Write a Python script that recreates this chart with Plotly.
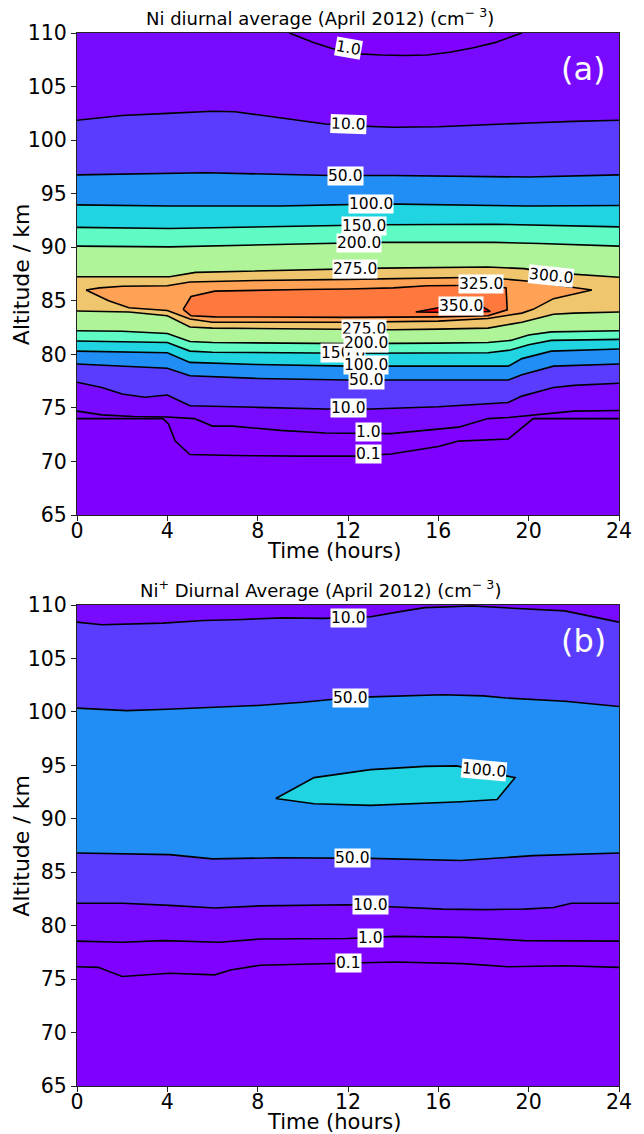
import math
import plotly.graph_objects as go

# ---------------- axes / levels ----------------
T_MIN, T_MAX = 0, 24
ALT_MIN, ALT_MAX = 65, 110
T_TICKS = [0, 4, 8, 12, 16, 20, 24]
ALT_TICKS = [65, 70, 75, 80, 85, 90, 95, 100, 105, 110]
LEVELS = [0, 0.1, 1, 10, 50, 100, 150, 200, 275, 300, 325, 350, 400]
VMAX = 400

# ---------------- panel (a): Ni (contour crossings: time h, altitude km) ----------------
A_LO_01_T = [0, 3.8, 4.05, 4.35, 5.0, 7, 10, 12.3, 13.9, 16.0, 16.9, 19.1, 20.2, 24]
A_LO_01_Z = [74.0, 74.0, 73.5, 71.9, 70.65, 70.55, 70.5, 70.5, 70.7, 71.4, 71.9, 72.1, 74.0, 74.0]
A_LO_1_T = [0, 1.1, 2.5, 4.0, 5.2, 6.0, 6.9, 9, 11, 12.3, 13.9, 16.9, 18.2, 19.1, 21.1, 22, 24]
A_LO_1_Z = [74.7, 74.35, 74.2, 74.15, 74.0, 73.3, 73.3, 72.9, 72.65, 72.6, 72.6, 73.2, 74.0, 74.1, 74.5, 74.7, 74.75]
A_UP_1_T = [9.4, 10.5, 11.3, 12.5, 13.5, 14.5, 15.5, 16.5, 17.5, 18.5, 19.7]
A_UP_1_Z = [110, 109.1, 108.55, 108.05, 107.95, 107.9, 107.95, 108.2, 108.6, 109.1, 110]
A_LO_10_T = [0, 1.1, 2, 3, 4, 5, 8, 11, 13, 16, 19.1, 19.7, 21.1, 22, 24]
A_LO_10_Z = [77.4, 76.9, 76.3, 76.0, 76.2, 75.2, 75.05, 74.9, 74.9, 75.1, 75.5, 76.1, 76.9, 77.1, 77.3]
A_UP_10_T = [0, 2, 4, 6, 7, 8, 10, 11, 12, 14, 16, 18, 20, 22, 24]
A_UP_10_Z = [101.85, 102.3, 102.5, 102.7, 102.65, 102.35, 101.8, 101.5, 101.35, 101.2, 101.25, 101.45, 101.6, 101.75, 101.85]
A_LO_50_T = [0, 4, 5, 8, 12, 19.1, 19.7, 21.1, 24]
A_LO_50_Z = [79.1, 78.7, 78.0, 77.75, 77.6, 77.6, 78.1, 78.9, 79.1]
A_UP_50_T = [0, 5.7, 11.2, 14, 20, 24]
A_UP_50_Z = [96.75, 96.95, 96.7, 96.7, 96.55, 96.75]
A_LO_100_T = [0, 4, 5, 8, 12, 19.1, 19.7, 21, 24]
A_LO_100_Z = [80.3, 80.15, 79.25, 79.05, 78.9, 78.9, 79.6, 80.3, 80.5]
A_UP_100_T = [0, 4.1, 9, 13.5, 20, 24]
A_UP_100_Z = [93.95, 93.85, 93.85, 94.05, 93.85, 93.9]
A_LO_150_T = [0, 4, 5, 6, 12, 18.2, 19.2, 20, 21, 24]
A_LO_150_Z = [81.25, 81.1, 80.3, 80.2, 80.1, 80.15, 80.4, 80.9, 81.3, 81.4]
A_UP_150_T = [0, 4.1, 10.9, 13.5, 18.5, 24]
A_UP_150_Z = [91.85, 91.75, 92.0, 92.1, 92.15, 91.9]
A_LO_200_T = [0, 2, 4, 5, 6, 12, 16, 18.2, 19.2, 20, 21, 24]
A_LO_200_Z = [82.2, 82.15, 81.95, 81.2, 81.1, 81.0, 81.05, 81.1, 81.3, 81.8, 82.1, 82.2]
A_UP_200_T = [0, 4.1, 10.9, 13.5, 18.5, 20.5, 24]
A_UP_200_Z = [90.1, 90.03, 90.35, 90.45, 90.45, 90.35, 90.1]
A_LO_275_T = [0, 2.3, 4.0, 5.0, 6, 8, 12, 14, 16, 18.2, 19.7, 21.1, 22, 24]
A_LO_275_Z = [84.05, 83.95, 83.6, 82.55, 82.45, 82.4, 82.3, 82.3, 82.35, 82.45, 83.0, 83.75, 83.85, 83.95]
A_UP_275_T = [0, 4.1, 5.25, 10.9, 13.5, 18.2, 19.8, 20.8, 24]
A_UP_275_Z = [87.25, 87.25, 87.65, 87.9, 88.05, 88.15, 88.0, 87.65, 87.2]
A_CL_300_T = [0.4, 1, 2, 4, 5, 8, 12, 16, 18, 19.9, 21.1, 22.8, 21.1, 20.8, 20.2, 19.7, 18.2, 16, 12, 8, 6, 5, 4, 2.3, 1.4, 0.4]
A_CL_300_Z = [86.0, 86.2, 86.35, 86.4, 86.75, 86.9, 87.0, 87.1, 87.2, 86.85, 86.5, 86.0, 85.2, 84.85, 84.2, 83.85, 83.35, 83.1, 83.0, 83.0, 83.0, 83.3, 84.1, 84.35, 85.0, 86.0]
A_CL_325_T = [4.7, 5.05, 6.1, 8, 10, 12, 14, 15.5, 18.2, 19.0, 19.05, 18.2, 16, 12, 8, 6.1, 5.05, 4.7]
A_CL_325_Z = [84.2, 85.4, 85.9, 86.0, 86.05, 86.1, 86.2, 86.4, 86.45, 86.2, 84.15, 83.6, 83.5, 83.45, 83.5, 83.5, 83.6, 84.2]
A_CL_350_T = [15.0, 16.0, 18.0, 18.3, 16.5, 15.0]
A_CL_350_Z = [83.95, 84.35, 84.4, 84.0, 83.92, 83.95]

A_LAB_TXT = ["1.0", "10.0", "50.0", "100.0", "150.0", "200.0", "275.0", "300.0", "325.0", "350.0",
             "150.0", "275.0", "200.0", "100.0", "50.0", "10.0", "1.0", "0.1"]
A_LAB_T = [12.0, 12.0, 11.9, 13.0, 12.7, 12.5, 12.3, 21.0, 17.9, 17.0,
           11.8, 12.7, 12.8, 12.8, 12.8, 12.0, 12.9, 12.9]
A_LAB_Z = [108.6, 101.5, 96.65, 94.0, 92.0, 90.35, 88.0, 87.3, 86.6, 84.55,
           80.15, 82.4, 81.1, 79.0, 77.6, 75.0, 72.75, 70.65]
A_LAB_ANG = [10, 2, 0, 0, 0, 0, 0, 6, 0, 0, 0, 0, 0, 0, 0, 0, 0, 0]

# ---------------- panel (b): Ni+ ----------------
B_LO_01_T = [0, 0.94, 2.0, 4.1, 6.1, 6.8, 8.1, 10.6, 14.1, 17.1, 19.1, 21.6, 24]
B_LO_01_Z = [76.15, 76.1, 75.25, 75.55, 75.4, 75.85, 76.3, 76.45, 76.6, 76.45, 76.15, 76.25, 76.1]
B_LO_1_T = [0, 2.0, 3.8, 5.6, 6.3, 8.1, 12, 14.1, 17.1, 19.8, 24]
B_LO_1_Z = [78.55, 78.45, 78.6, 78.45, 78.45, 78.75, 78.8, 79.0, 78.9, 78.6, 78.55]
B_LO_10_T = [0, 2.0, 4.1, 6.1, 8.1, 12, 14.1, 16.2, 18, 19.8, 21.1, 21.9, 24]
B_LO_10_Z = [82.1, 82.1, 81.9, 81.65, 81.85, 81.95, 81.75, 81.55, 81.5, 81.55, 81.7, 82.1, 82.1]
B_UP_10_T = [0, 1.1, 3.8, 5.6, 7.35, 9.1, 10.9, 13.0, 14.5, 15.4, 17.5, 19.8, 21.6, 24]
B_UP_10_Z = [108.4, 108.15, 108.3, 108.55, 108.65, 108.8, 108.75, 108.9, 109.45, 109.75, 109.9, 109.65, 109.45, 108.4]
B_LO_50_T = [0, 4.1, 6, 8.9, 13, 17, 20.2, 24]
B_LO_50_Z = [86.8, 86.65, 86.25, 86.35, 86.3, 86.1, 86.55, 86.8]
B_UP_50_T = [0, 2.2, 4, 6, 8, 10, 11.5, 13, 16.2, 18, 19, 21.6, 24]
B_UP_50_Z = [100.35, 100.12, 100.25, 100.4, 100.6, 100.9, 101.2, 101.4, 101.6, 101.5, 101.3, 101.0, 100.5]
B_CL_100_T = [8.8, 10.5, 13, 15.4, 16.8, 19.4, 18.6, 17, 13, 10.5, 8.8]
B_CL_100_Z = [91.9, 93.85, 94.6, 94.9, 94.95, 93.85, 91.8, 91.6, 91.25, 91.4, 91.9]

B_LAB_TXT = ["10.0", "50.0", "100.0", "50.0", "10.0", "1.0", "0.1"]
B_LAB_T = [12.0, 12.1, 18.0, 12.2, 13.0, 13.0, 12.0]
B_LAB_Z = [108.75, 101.3, 94.6, 86.3, 81.95, 78.8, 76.5]
B_LAB_ANG = [0, 0, 5, 0, 0, 0, 0]

TITLE_A = "Ni diurnal average (April 2012) (cm<sup>\u2212 3</sup>)"
TITLE_B = "Ni<sup>+</sup> Diurnal Average (April 2012) (cm<sup>\u2212 3</sup>)"
X_TITLE = "Time (hours)"
Y_TITLE = "Altitude / km"

# ---------------- styling helpers ----------------
FONT = "DejaVu Sans, sans-serif"
W, H = 644, 1134
ML, MR, MT, MB = 77, 14, 33, 48


def px_x(px):
    return (px - ML) / (W - ML - MR)


def px_y(py):
    return (H - MB - py) / (H - MT - MB)


def rainbow(x):
    r = min(1.0, abs(2 * x - 0.5))
    g = math.sin(math.pi * x)
    b = math.cos(math.pi * x / 2)
    return "rgb(%d,%d,%d)" % (round(255 * r), round(255 * g), round(255 * max(b, 0)))


def band_color(level):
    i = LEVELS.index(level)
    if i >= len(LEVELS) - 2:
        return rainbow(1.0)
    return rainbow(0.5 * (LEVELS[i] + LEVELS[i + 1]) / VMAX)


def upper_path(t, z):
    if t is None:
        return [T_MIN, T_MAX], [ALT_MAX, ALT_MAX]
    t, z = list(t), list(z)
    if t[0] > T_MIN:
        t, z = [T_MIN] + t, [ALT_MAX] + z
    if t[-1] < T_MAX:
        t, z = t + [T_MAX], z + [ALT_MAX]
    return t, z


fig = go.Figure()


def add_panel(xa, ya, open_regions, closed_regions, labels):
    for level, lt, lz, ut, uz in open_regions:
        pt, pz = upper_path(ut, uz)
        fig.add_trace(go.Scatter(x=list(lt) + pt[::-1], y=list(lz) + pz[::-1], mode="lines",
                                 fill="toself", fillcolor=band_color(level), line=dict(width=0),
                                 xaxis=xa, yaxis=ya, hoverinfo="skip", showlegend=False))
    for level, ct, cz in closed_regions:
        fig.add_trace(go.Scatter(x=ct, y=cz, mode="lines", fill="toself",
                                 fillcolor=band_color(level), line=dict(width=0),
                                 xaxis=xa, yaxis=ya, hoverinfo="skip", showlegend=False))
    curves = []
    for level, lt, lz, ut, uz in open_regions:
        curves.append((lt, lz))
        if ut is not None:
            curves.append((ut, uz))
    for level, ct, cz in closed_regions:
        curves.append((ct, cz))
    for ct, cz in curves:
        fig.add_trace(go.Scatter(x=ct, y=cz, mode="lines", line=dict(color="black", width=1.6),
                                 xaxis=xa, yaxis=ya, hoverinfo="skip", showlegend=False))
    xr = "x" if xa == "x" else "x2"
    yr = "y" if ya == "y" else "y2"
    for txt, lt, lz, ang in zip(*labels):
        fig.add_annotation(x=lt, y=lz, xref=xr, yref=yr, text=txt, showarrow=False,
                           xanchor="center", yanchor="middle",
                           textangle=ang, bgcolor="white", borderpad=0,
                           font=dict(family=FONT, size=15.5, color="black"))


add_panel("x", "y",
          [(0.1, A_LO_01_T, A_LO_01_Z, None, None),
           (1, A_LO_1_T, A_LO_1_Z, A_UP_1_T, A_UP_1_Z),
           (10, A_LO_10_T, A_LO_10_Z, A_UP_10_T, A_UP_10_Z),
           (50, A_LO_50_T, A_LO_50_Z, A_UP_50_T, A_UP_50_Z),
           (100, A_LO_100_T, A_LO_100_Z, A_UP_100_T, A_UP_100_Z),
           (150, A_LO_150_T, A_LO_150_Z, A_UP_150_T, A_UP_150_Z),
           (200, A_LO_200_T, A_LO_200_Z, A_UP_200_T, A_UP_200_Z),
           (275, A_LO_275_T, A_LO_275_Z, A_UP_275_T, A_UP_275_Z)],
          [(300, A_CL_300_T, A_CL_300_Z), (325, A_CL_325_T, A_CL_325_Z), (350, A_CL_350_T, A_CL_350_Z)],
          (A_LAB_TXT, A_LAB_T, A_LAB_Z, A_LAB_ANG))

add_panel("x2", "y2",
          [(0.1, B_LO_01_T, B_LO_01_Z, None, None),
           (1, B_LO_1_T, B_LO_1_Z, None, None),
           (10, B_LO_10_T, B_LO_10_Z, B_UP_10_T, B_UP_10_Z),
           (50, B_LO_50_T, B_LO_50_Z, B_UP_50_T, B_UP_50_Z)],
          [(100, B_CL_100_T, B_CL_100_Z)],
          (B_LAB_TXT, B_LAB_T, B_LAB_Z, B_LAB_ANG))

bg = rainbow(0.5 * (LEVELS[0] + LEVELS[1]) / VMAX)
axis_common = dict(showline=True, mirror=True, linecolor="#222", linewidth=1, ticks="outside",
                   ticklen=5, tickcolor="#222", showgrid=False, zeroline=False,
                   tickfont=dict(family=FONT, size=20.5, color="black"))
fig.update_layout(
    width=W, height=H, margin=dict(l=ML, r=MR, t=MT, b=MB),
    paper_bgcolor="white", plot_bgcolor=bg, showlegend=False,
    xaxis=dict(domain=[0, 1], range=[T_MIN, T_MAX], tickvals=T_TICKS, anchor="y",
               ticklabelstandoff=-8, **axis_common),
    yaxis=dict(domain=[px_y(515), 1], range=[ALT_MIN, ALT_MAX], tickvals=ALT_TICKS, anchor="x", **axis_common),
    xaxis2=dict(domain=[0, 1], range=[T_MIN, T_MAX], tickvals=T_TICKS, anchor="y2",
                ticklabelstandoff=-8, **axis_common),
    yaxis2=dict(domain=[0, px_y(605)], range=[ALT_MIN, ALT_MAX], tickvals=ALT_TICKS, anchor="x2", **axis_common),
)

for title, ty, xt_y, panel_lab, top, bot in [(TITLE_A, 17, 551, "(a)", 33, 515),
                                             (TITLE_B, 589, 1122, "(b)", 605, 1086)]:
    fig.add_annotation(x=px_x(325), y=px_y(ty), xref="paper", yref="paper", text=title, showarrow=False,
                       xanchor="center", yanchor="middle", font=dict(family=FONT, size=18, color="black"))
    fig.add_annotation(x=px_x(340), y=px_y(xt_y), xref="paper", yref="paper", text=X_TITLE, showarrow=False,
                       xanchor="center", yanchor="middle", font=dict(family=FONT, size=21, color="black"))
    fig.add_annotation(x=px_x(20), y=px_y((top + bot) / 2), xref="paper", yref="paper", text=Y_TITLE,
                       textangle=-90, showarrow=False, xanchor="center", yanchor="middle",
                       font=dict(family=FONT, size=22, color="black"))
    fig.add_annotation(x=px_x(594), y=px_y(top + 36), xref="paper", yref="paper", text=panel_lab,
                       showarrow=False, xanchor="center", yanchor="middle",
                       font=dict(family=FONT, size=32, color="white"))

fig.write_html("out.html")
